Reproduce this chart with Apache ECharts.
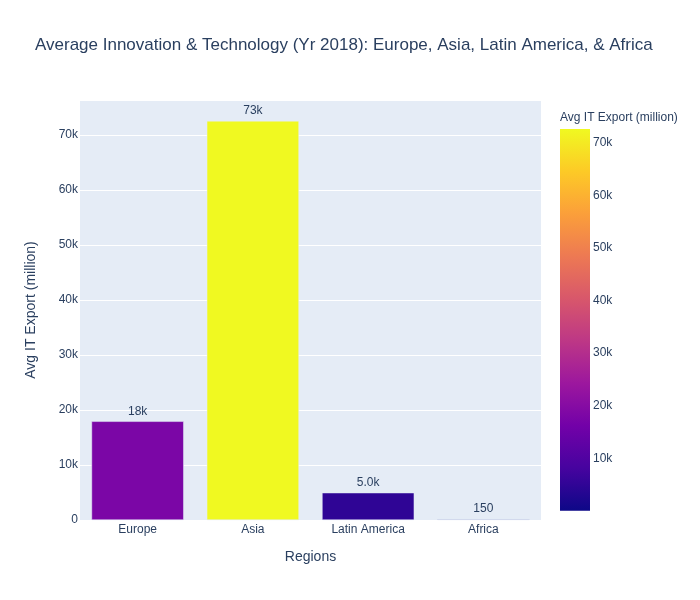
<!DOCTYPE html>
<html>
<head>
<meta charset="utf-8">
<script src="https://cdn.jsdelivr.net/npm/echarts@6/dist/echarts.min.js"></script>
<style>
html,body{margin:0;padding:0;background:#fff;}
#main{width:700px;height:600px;}
</style>
</head>
<body>
<div id="main"></div>
<script>
// data
var regions = ['Europe', 'Asia', 'Latin America', 'Africa'];
var avgExport = [17950, 72600, 4960, 150];
var yTicks = [0, 10000, 20000, 30000, 40000, 50000, 60000, 70000];
var plasma = ['#0d0887', '#46039f', '#7201a8', '#9c179e', '#bd3786',
              '#d8576b', '#ed7953', '#fb9f3a', '#fdca26', '#f0f921'];

var cMin = Math.min.apply(null, avgExport);
var cMax = Math.max.apply(null, avgExport);
var txt = '#2a3f5f';
var font = 'Arial, "Liberation Sans", sans-serif';

function kFmt(v) {
	if (v === 0) return '0';
	return v / 1000 + 'k';
}
// two significant digits, like plotly's .2s
function sFmt(v) {
	if (v < 1000) return String(Number(v.toPrecision(2)));
	return (v / 1000).toPrecision(2) + 'k';
}

var chart = echarts.init(document.getElementById('main'));
var option = {
	backgroundColor: '#fff',
	textStyle: {fontFamily: font, color: txt},
	title: [{
		text: 'Average Innovation & Technology (Yr 2018): Europe, Asia, Latin America, & Africa',
		left: 30,
		top: 32,
		textStyle: {fontSize: 17, fontWeight: 'normal', color: txt, fontFamily: font}
	}, {
		text: 'Avg IT Export (million)',
		left: 555,
		top: 107,
		textStyle: {fontSize: 12, fontWeight: 'normal', color: txt, fontFamily: font}
	}],
	visualMap: {
		show: false,
		type: 'continuous',
		seriesIndex: 0,
		dimension: 1,
		min: cMin,
		max: cMax,
		inRange: {color: plasma}
	},
	grid: [{
		left: 80, right: 159, top: 100, bottom: 80,
		show: true, backgroundColor: '#e5ecf6', borderWidth: 0
	}, {
		left: 560, width: 30, top: 129, bottom: 89.2,
		show: false
	}],
	xAxis: [{
		gridIndex: 0,
		type: 'category',
		data: regions,
		name: 'Regions',
		nameLocation: 'middle',
		nameGap: 30,
		nameTextStyle: {fontSize: 14, color: txt},
		axisLine: {show: false},
		axisTick: {show: false},
		axisLabel: {fontSize: 12, color: txt, margin: 4}
	}, {
		gridIndex: 1,
		type: 'category',
		data: ['cb'],
		show: false
	}],
	yAxis: [{
		gridIndex: 0,
		type: 'value',
		min: 0,
		max: 76400,
		interval: 10000,
		name: 'Avg IT Export (million)',
		nameLocation: 'middle',
		nameGap: 42,
		nameTextStyle: {fontSize: 14, color: txt},
		axisLine: {show: false},
		axisTick: {show: false},
		splitLine: {lineStyle: {color: '#fff', width: 1}},
		axisLabel: {
			fontSize: 12, color: txt, margin: 2,
			padding: [3, 0, 0, 0],
			showMaxLabel: false,
			formatter: function (v) { return yTicks.indexOf(v) >= 0 ? kFmt(v) : ''; }
		}
	}, {
		gridIndex: 1,
		type: 'value',
		position: 'right',
		min: 0,
		max: cMax,
		interval: 10000,
		axisLine: {show: false},
		axisTick: {show: false},
		splitLine: {show: false},
		axisLabel: {
			fontSize: 12, color: txt, margin: 3,
			showMaxLabel: false,
			formatter: function (v) { return v === 0 ? '' : kFmt(v); }
		}
	}],
	series: [{
		type: 'bar',
		xAxisIndex: 0,
		yAxisIndex: 0,
		data: avgExport,
		barCategoryGap: '20%',
		itemStyle: {borderColor: '#e5ecf6', borderWidth: 0.5},
		label: {
			show: true,
			position: 'top',
			distance: 4,
			fontSize: 12,
			color: txt,
			formatter: function (p) { return sFmt(p.value); }
		}
	}, {
		// colorbar
		type: 'bar',
		xAxisIndex: 1,
		yAxisIndex: 1,
		data: [cMax],
		barWidth: '100%',
		silent: true,
		itemStyle: {
			color: new echarts.graphic.LinearGradient(0, 0, 0, 1,
				plasma.slice().reverse().map(function (c, i) {
					return {offset: i / (plasma.length - 1), color: c};
				}))
		}
	}]
};
chart.setOption(option);
</script>
</body>
</html>
